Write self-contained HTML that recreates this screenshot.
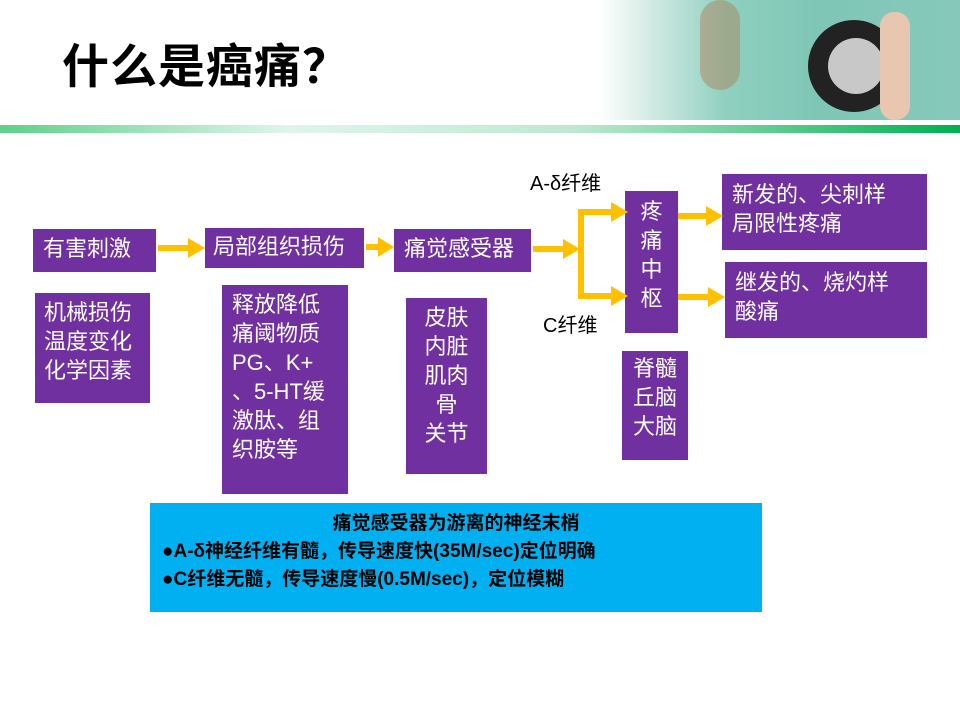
<!DOCTYPE html>
<html><head><meta charset="utf-8"><style>
body{margin:0;width:960px;height:720px;position:relative;background:#fff;overflow:hidden;font-family:"Liberation Sans","Noto Sans CJK SC",sans-serif}
.b{position:absolute;background:#7030A0;color:#fff;font-size:22px;line-height:29px;box-sizing:border-box}
.t{position:absolute;font-size:20px;color:#000}
</style></head><body>
<div style="position:absolute;left:600px;top:0;width:360px;height:120px;background:linear-gradient(90deg,#fff 0%,#cfe9e2 15%,#8fd0c0 35%,#7fc6b6 60%,#86c9bb 100%)"></div>
<div style="position:absolute;left:700px;top:0;width:40px;height:90px;background:#b07a50;opacity:.45;border-radius:20px"></div>
<div style="position:absolute;left:808px;top:20px;width:92px;height:92px;border-radius:50%;background:#222"></div>
<div style="position:absolute;left:828px;top:38px;width:56px;height:56px;border-radius:50%;background:#c8c8c8"></div>
<div style="position:absolute;left:880px;top:12px;width:30px;height:108px;background:#e9c6b0;border-radius:14px"></div>
<div style="position:absolute;left:0;top:125px;width:960px;height:8px;background:linear-gradient(90deg,#5fd08a 0%,#dff5ea 30%,#bde9d0 60%,#00b050 100%)"></div>
<div style="position:absolute;left:62px;top:28px;font-size:47px;font-weight:bold;color:#000;font-family:'Noto Sans CJK SC',sans-serif;letter-spacing:1px">什么是癌痛？</div>

<div class="b" style="left:33px;top:229px;width:123px;height:43px;padding:5px 0 0 10px">有害刺激</div>
<div class="b" style="left:205px;top:228px;width:159px;height:40px;padding:4px 0 0 8px">局部组织损伤</div>
<div class="b" style="left:394px;top:229px;width:137px;height:43px;padding:5px 0 0 10px">痛觉感受器</div>
<div class="b" style="left:625px;top:191px;width:53px;height:142px;padding:6px 0 0 0;text-align:center">疼<br>痛<br>中<br>枢</div>
<div class="b" style="left:722px;top:174px;width:205px;height:76px;padding:6px 0 0 10px">新发的、尖刺样<br>局限性疼痛</div>
<div class="b" style="left:725px;top:262px;width:202px;height:76px;padding:6px 0 0 10px">继发的、烧灼样<br>酸痛</div>
<div class="b" style="left:35px;top:293px;width:115px;height:110px;padding:5px 0 0 9px">机械损伤<br>温度变化<br>化学因素</div>
<div class="b" style="left:222px;top:285px;width:126px;height:209px;padding:5px 0 0 10px">释放降低<br>痛阈物质<br>PG、K+<br>、5-HT缓<br>激肽、组<br>织胺等</div>
<div class="b" style="left:406px;top:298px;width:81px;height:176px;padding:5px 0 0 0;text-align:center">皮肤<br>内脏<br>肌肉<br>骨<br>关节</div>
<div class="b" style="left:622px;top:351px;width:66px;height:109px;padding:3px 0 0 0;text-align:center">脊髓<br>丘脑<br>大脑</div>

<div class="t" style="left:530px;top:167px">A-δ纤维</div>
<div class="t" style="left:543px;top:309px">C纤维</div>

<svg style="position:absolute;left:0;top:0" width="960" height="720">
<g stroke="#FFC000" stroke-width="6" fill="none">
<line x1="158" y1="248" x2="190" y2="248"/>
<line x1="366" y1="247" x2="380" y2="247"/>
<line x1="533" y1="249" x2="565" y2="249"/>
<polyline points="617,212 581,212 581,296 617,296"/>
<line x1="678" y1="216" x2="708" y2="216"/>
<line x1="678" y1="297" x2="710" y2="297"/>
</g>
<g fill="#FFC000">
<polygon points="188,238 205,248 188,258"/>
<polygon points="378,237 394,247 378,257"/>
<polygon points="563,239 580,249 563,259"/>
<polygon points="611,202 628,212 611,222"/>
<polygon points="611,286 628,296 611,306"/>
<polygon points="706,206 723,216 706,226"/>
<polygon points="708,287 725,297 708,307"/>
</g>
</svg>

<div style="position:absolute;left:150px;top:503px;width:612px;height:109px;background:#00B0F0;font-size:19px;font-weight:bold;color:#000;line-height:28px;box-sizing:border-box;padding-top:7px">
<div style="text-align:center">痛觉感受器为游离的神经末梢</div>
<div style="padding-left:12px">●A-δ神经纤维有髓，传导速度快(35M/sec)定位明确</div>
<div style="padding-left:12px">●C纤维无髓，传导速度慢(0.5M/sec)，定位模糊</div>
</div>
</body></html>
